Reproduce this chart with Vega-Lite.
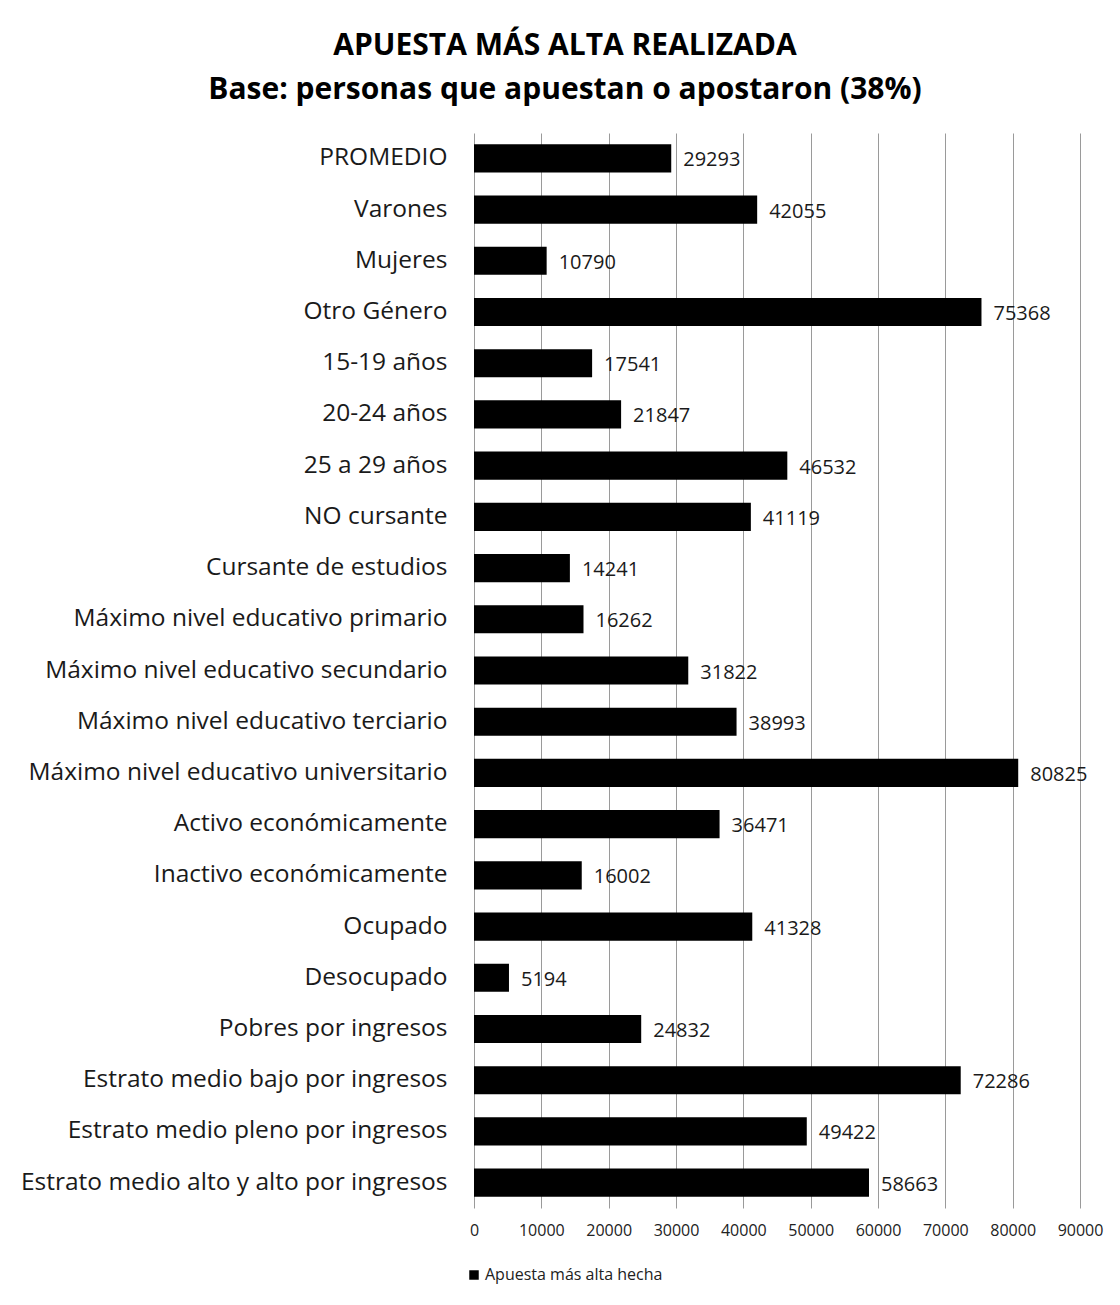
{
  "$schema": "https://vega.github.io/schema/vega-lite/v6.json",
  "autosize": {"type": "none"},
  "padding": {"left": 474, "top": 133, "right": 40, "bottom": 97},
  "width": 606,
  "height": 1075,
  "background": "white",
  "title": {
    "text": ["APUESTA MÁS ALTA REALIZADA", "Base: personas que apuestan o apostaron (38%)"],
    "anchor": "middle",
    "dx": -212,
    "offset": 28,
    "font": "Open Sans",
    "fontSize": 30,
    "fontWeight": "bold",
    "lineHeight": 44,
    "color": "#000000"
  },
  "data": {
    "values": [
      {"grupo": "PROMEDIO", "valor": 29293, "serie": "Apuesta más alta hecha"},
      {"grupo": "Varones", "valor": 42055, "serie": "Apuesta más alta hecha"},
      {"grupo": "Mujeres", "valor": 10790, "serie": "Apuesta más alta hecha"},
      {"grupo": "Otro Género", "valor": 75368, "serie": "Apuesta más alta hecha"},
      {"grupo": "15-19 años", "valor": 17541, "serie": "Apuesta más alta hecha"},
      {"grupo": "20-24 años", "valor": 21847, "serie": "Apuesta más alta hecha"},
      {"grupo": "25 a 29 años", "valor": 46532, "serie": "Apuesta más alta hecha"},
      {"grupo": "NO cursante", "valor": 41119, "serie": "Apuesta más alta hecha"},
      {"grupo": "Cursante de estudios", "valor": 14241, "serie": "Apuesta más alta hecha"},
      {"grupo": "Máximo nivel educativo primario", "valor": 16262, "serie": "Apuesta más alta hecha"},
      {"grupo": "Máximo nivel educativo secundario", "valor": 31822, "serie": "Apuesta más alta hecha"},
      {"grupo": "Máximo nivel educativo terciario", "valor": 38993, "serie": "Apuesta más alta hecha"},
      {"grupo": "Máximo nivel educativo universitario", "valor": 80825, "serie": "Apuesta más alta hecha"},
      {"grupo": "Activo económicamente", "valor": 36471, "serie": "Apuesta más alta hecha"},
      {"grupo": "Inactivo económicamente", "valor": 16002, "serie": "Apuesta más alta hecha"},
      {"grupo": "Ocupado", "valor": 41328, "serie": "Apuesta más alta hecha"},
      {"grupo": "Desocupado", "valor": 5194, "serie": "Apuesta más alta hecha"},
      {"grupo": "Pobres por ingresos", "valor": 24832, "serie": "Apuesta más alta hecha"},
      {"grupo": "Estrato medio bajo por ingresos", "valor": 72286, "serie": "Apuesta más alta hecha"},
      {"grupo": "Estrato medio pleno por ingresos", "valor": 49422, "serie": "Apuesta más alta hecha"},
      {"grupo": "Estrato medio alto y alto por ingresos", "valor": 58663, "serie": "Apuesta más alta hecha"}
    ]
  },
  "encoding": {
    "y": {
      "field": "grupo",
      "type": "nominal",
      "sort": null,
      "title": null,
      "scale": {"paddingInner": 0.45, "paddingOuter": 0.22},
      "axis": {
        "labelFont": "Open Sans",
        "labelFontSize": 24.5,
        "labelColor": "#1a1a1a",
        "labelPadding": 27,
        "labelLimit": 500,
        "ticks": false,
        "domain": false,
        "grid": false
      }
    },
    "x": {
      "field": "valor",
      "type": "quantitative",
      "title": null,
      "scale": {"domain": [0, 90000], "nice": false},
      "axis": {
        "values": [0, 10000, 20000, 30000, 40000, 50000, 60000, 70000, 80000, 90000],
        "format": "d",
        "labelOverlap": false,
        "labelFlush": false,
        "labelFont": "Open Sans",
        "labelFontSize": 16,
        "labelColor": "#222222",
        "labelPadding": 14,
        "ticks": false,
        "domain": false,
        "grid": true,
        "gridColor": "#9a9a9a",
        "gridWidth": 1
      }
    }
  },
  "layer": [
    {
      "mark": {"type": "bar", "cornerRadius": 0},
      "encoding": {
        "color": {
          "field": "serie",
          "type": "nominal",
          "scale": {"range": ["#000000"]},
          "legend": {
            "title": null,
            "orient": "none",
            "legendX": -8,
            "legendY": 1134,
            "symbolType": "square",
            "symbolSize": 90,
            "labelFont": "Open Sans",
            "labelFontSize": 16,
            "labelLimit": 400,
            "labelColor": "#222222",
            "labelOffset": 3
          }
        }
      }
    },
    {
      "mark": {"type": "text", "align": "left", "baseline": "middle", "dx": 12, "dy": 2, "font": "Open Sans", "fontSize": 20, "color": "#1a1a1a"},
      "encoding": {
        "text": {"field": "valor", "type": "quantitative", "format": "d"}
      }
    }
  ],
  "config": {
    "view": {"stroke": null}
  }
}
